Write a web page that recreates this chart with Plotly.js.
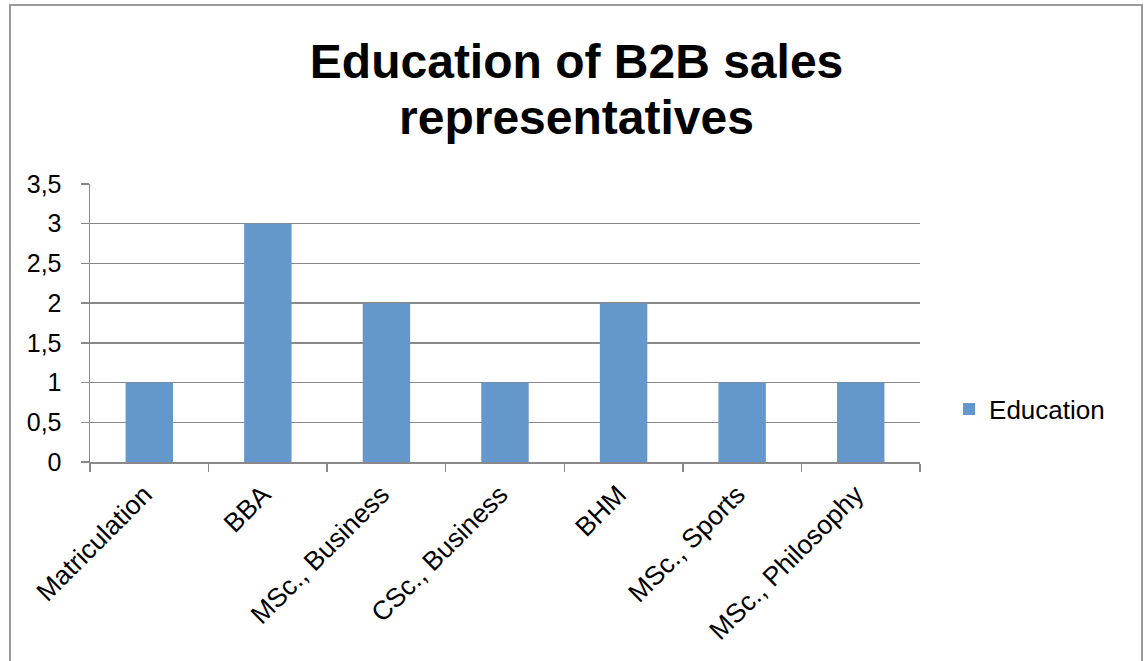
<!DOCTYPE html>
<html>
<head>
<meta charset="utf-8">
<script src="https://cdn.plot.ly/plotly-3.0.1.min.js"></script>
<style>
  body { margin: 0; padding: 0; background: #fff; }
  #chart { position: absolute; left: 0; top: 0; width: 1144px; height: 661px; }
  #frame { position: absolute; left: 9px; top: 4px; width: 1134px; height: 700px;
           border: 2px solid #9a9a9a; pointer-events: none; box-sizing: border-box; }
</style>
</head>
<body>
<div id="chart"></div>
<div id="frame"></div>
<script>
const categories = ["Matriculation", "BBA", "MSc., Business", "CSc., Business", "BHM", "MSc., Sports", "MSc., Philosophy"];
const educationValues = [1, 3, 2, 1, 2, 1, 1];
const seriesName = "Education";
const yTickValues = [0, 0.5, 1, 1.5, 2, 2.5, 3, 3.5];
const yTickLabels = ["0", "0,5", "1", "1,5", "2", "2,5", "3", "3,5"];
const titleLines = ["Education of B2B sales", "representatives"];

const font = "Liberation Sans, Arial, sans-serif";

const trace = {
  type: "bar",
  x: categories,
  y: educationValues,
  name: seriesName,
  marker: { color: "#6497CB" },
  showlegend: true,
  hoverinfo: "x+y"
};

const titleFont = { family: font, size: 48, color: "#000000", weight: "bold" };

const layout = {
  width: 1144,
  height: 661,
  margin: { l: 90, r: 224, t: 184, b: 199 },
  paper_bgcolor: "#ffffff",
  plot_bgcolor: "#ffffff",
  separators: ", ",
  font: { family: font, color: "#000000", size: 25 },
  bargap: 0.6,
  title: {
    text: titleLines[0],
    font: titleFont,
    x: 0.504,
    xanchor: "center",
    xref: "container",
    yref: "container",
    y: 1 - 61 / 661,
    yanchor: "middle"
  },
  annotations: [{
    text: titleLines[1],
    font: titleFont,
    xref: "paper",
    yref: "paper",
    x: (576 - 90) / 830,
    y: (462 - 118) / 278,
    xanchor: "center",
    yanchor: "middle",
    showarrow: false
  }],
  xaxis: {
    type: "category",
    tickangle: -45,
    ticks: "outside",
    tickson: "boundaries",
    ticklen: 8,
    tickcolor: "#898989",
    tickwidth: 1.5,
    showline: true,
    linecolor: "#898989",
    linewidth: 1.5,
    showgrid: false,
    ticklabelstandoff: 5,
    ticklabelshift: -5,
    tickfont: { family: font, size: 26.5, color: "#000000" },
    fixedrange: true
  },
  yaxis: {
    range: [0, 3.5],
    tickvals: yTickValues,
    ticktext: yTickLabels,
    ticks: "outside",
    ticklen: 8,
    tickcolor: "#898989",
    tickwidth: 1.5,
    showline: true,
    linecolor: "#898989",
    linewidth: 1.5,
    showgrid: true,
    gridcolor: "#898989",
    gridwidth: 1.5,
    zeroline: false,
    ticklabelstandoff: 14,
    tickfont: { family: font, size: 25, color: "#000000" },
    fixedrange: true
  },
  legend: {
    x: 1.035,
    xanchor: "left",
    y: 0.19,
    yanchor: "middle",
    font: { family: font, size: 26, color: "#000000" },
    bgcolor: "rgba(0,0,0,0)",
    itemwidth: 30
  }
};

Plotly.newPlot("chart", [trace], layout, { displayModeBar: false, staticPlot: true });
</script>
</body>
</html>
